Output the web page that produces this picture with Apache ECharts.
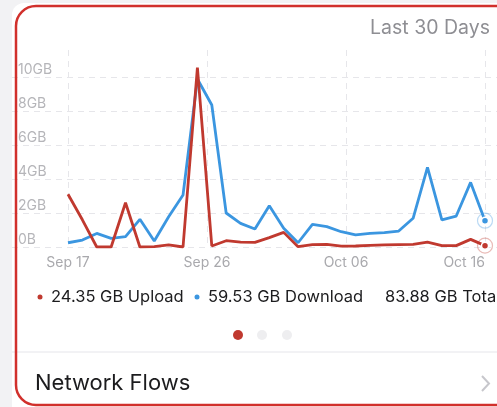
<!DOCTYPE html>
<html>
<head>
<meta charset="utf-8">
<script src="https://cdn.jsdelivr.net/npm/echarts@6/dist/echarts.min.js"></script>
<style>
html,body{margin:0;padding:0;background:#f2f2f4;}
#chart{width:497px;height:407px;}
</style>
</head>
<body>
<div id="chart"></div>
<script>
// ---- data ----
const startDate = new Date(2023, 8, 17); // Sep 17
const dates = [];
for (let i = 0; i < 30; i++) { const d = new Date(startDate); d.setDate(d.getDate() + i); dates.push(d); }
const monthNames = ['Jan','Feb','Mar','Apr','May','Jun','Jul','Aug','Sep','Oct','Nov','Dec'];
const upload = [3.1, 1.6, 0, 0, 2.6, 0, 0.02, 0.12, 0, 10.55, 0.06, 0.37, 0.29, 0.27, 0.55, 0.86, 0.02, 0.14, 0.16, 0.05, 0.06, 0.1, 0.12, 0.14, 0.16, 0.29, 0.08, 0.08, 0.45, 0.08];
const download = [0.25, 0.41, 0.8, 0.51, 0.61, 1.63, 0.35, 1.78, 3.06, 9.88, 8.35, 2.0, 1.39, 1.06, 2.43, 1.1, 0.25, 1.33, 1.2, 0.9, 0.71, 0.8, 0.84, 0.94, 1.69, 4.69, 1.59, 1.82, 3.8, 1.55];
const yTicks = [0, 2, 4, 6, 8, 10];
const totals = { upload: '24.35 GB', download: '59.53 GB', total: '83.88 GB' };
const titleText = 'Last 30 Days';
const footerText = 'Network Flows';

const RED = '#c0392f';
const BLUE = '#3b96e0';

function fmtDate(v) {
  const d = dates[Math.floor(v + 1e-6)];
  const dd = d.getDate();
  return monthNames[d.getMonth()] + ' ' + (dd < 10 ? '0' + dd : dd);
}
function fmtGB(v) { return v === 0 ? '0B' : v + 'GB'; }

const upData = upload.map((v, i) => i === upload.length - 1
  ? { value: [i, v], symbol: 'circle', symbolSize: 7, itemStyle: { color: RED, borderColor: '#fff', borderWidth: 1.5 } }
  : [i, v]);
const dnData = download.map((v, i) => i === download.length - 1
  ? { value: [i, v], symbol: 'circle', symbolSize: 7, itemStyle: { color: BLUE, borderColor: '#fff', borderWidth: 1.5 } }
  : [i, v]);

const chart = echarts.init(document.getElementById('chart'));
const FONT = 'Inter, "Noto Sans", sans-serif';

chart.setOption({
  backgroundColor: 'transparent',
  animation: false,
  textStyle: { fontFamily: FONT },
  grid: [
    { left: 12, right: 0, top: 43, bottom: 160 },
    { left: 68, right: 12, top: 50, bottom: 160 }
  ],
  xAxis: [
    { gridIndex: 0, type: 'value', min: 0, max: 1, show: false },
    {
      gridIndex: 1, type: 'value', min: 0, max: 29, interval: 29 / 3,
      axisLine: { show: false }, axisTick: { show: false },
      splitLine: { show: true, lineStyle: { color: '#e6e6ea', type: [6, 5], width: 1 } },
      axisLabel: { formatter: fmtDate, color: '#a9a9ad', fontSize: 14, margin: 9, alignMaxLabel: 'right', fontFamily: FONT }
    }
  ],
  yAxis: [
    {
      gridIndex: 0, type: 'value', min: 0, max: 12, interval: 2,
      axisLine: { show: false }, axisTick: { show: false },
      splitLine: { show: true, showMaxLine: false, lineStyle: { color: '#e6e6ea', type: [6, 5], width: 1 } },
      axisLabel: {
        inside: true, showMaxLabel: false, margin: 6, color: '#b5b5b9', fontSize: 14,
        verticalAlign: 'bottom', align: 'left', formatter: fmtGB, fontFamily: FONT,
        lineHeight: 14
      }
    },
    { gridIndex: 1, type: 'value', min: 0, max: 197 / 17, show: false }
  ],
  series: [
    {
      name: 'Download', type: 'line', xAxisIndex: 1, yAxisIndex: 1,
      data: dnData, showSymbol: true, symbol: 'none', z: 3,
      lineStyle: { color: BLUE, width: 2.8 }, itemStyle: { color: BLUE },
      markPoint: {
        symbol: 'circle', symbolSize: 15, silent: true,
        itemStyle: { color: 'rgba(255,255,255,0)', borderColor: 'rgba(59,150,224,0.35)', borderWidth: 1.2 },
        label: { show: false },
        data: [{ coord: [download.length - 1, download[download.length - 1]] }]
      }
    },
    {
      name: 'Upload', type: 'line', xAxisIndex: 1, yAxisIndex: 1,
      data: upData, showSymbol: true, symbol: 'none', z: 4,
      lineStyle: { color: RED, width: 2.8 }, itemStyle: { color: RED },
      markPoint: {
        symbol: 'circle', symbolSize: 15, silent: true,
        itemStyle: { color: 'rgba(255,255,255,0)', borderColor: 'rgba(192,57,47,0.35)', borderWidth: 1.2 },
        label: { show: false },
        data: [{ coord: [upload.length - 1, upload[upload.length - 1]] }]
      }
    }
  ],
  graphic: [
    { type: 'rect', z: -10, silent: true, shape: { x: 12, y: 3, width: 500, height: 420, r: 12 }, style: { fill: '#ffffff' } },
    { type: 'text', x: 490, y: 28, style: { text: titleText, fill: '#8e8e93', font: '19.5px ' + FONT, align: 'right', verticalAlign: 'middle' } },
    { type: 'circle', shape: { cx: 40, cy: 297, r: 2.5 }, style: { fill: RED } },
    { type: 'text', x: 51, y: 297, style: { text: totals.upload + ' Upload', fill: '#1c1c1e', font: '16.5px ' + FONT, verticalAlign: 'middle' } },
    { type: 'circle', shape: { cx: 197, cy: 297, r: 2.5 }, style: { fill: BLUE } },
    { type: 'text', x: 208, y: 297, style: { text: totals.download + ' Download', fill: '#1c1c1e', font: '16.5px ' + FONT, verticalAlign: 'middle' } },
    { type: 'text', x: 385, y: 297, style: { text: totals.total + ' Total', fill: '#1c1c1e', font: '16.5px ' + FONT, verticalAlign: 'middle' } },
    { type: 'circle', shape: { cx: 238, cy: 335, r: 5 }, style: { fill: RED } },
    { type: 'circle', shape: { cx: 262, cy: 335, r: 5 }, style: { fill: '#eeeef0' } },
    { type: 'circle', shape: { cx: 287, cy: 335, r: 5 }, style: { fill: '#eeeef0' } },
    { type: 'line', shape: { x1: 12, y1: 352, x2: 497, y2: 352 }, style: { stroke: '#e5e5ea', lineWidth: 1 } },
    { type: 'text', x: 35, y: 383, style: { text: footerText, fill: '#1c1c1e', font: '22px ' + FONT, verticalAlign: 'middle' } },
    { type: 'polyline', shape: { points: [[482, 376], [489, 383.5], [482, 391]] }, style: { stroke: '#c7c7cc', lineWidth: 2, fill: null } },
    { type: 'rect', z: 100, silent: true, shape: { x: 16, y: 6, width: 500, height: 399, r: 20 }, style: { fill: null, stroke: '#d1302c', lineWidth: 2.5 } }
  ]
});
</script>
</body>
</html>
